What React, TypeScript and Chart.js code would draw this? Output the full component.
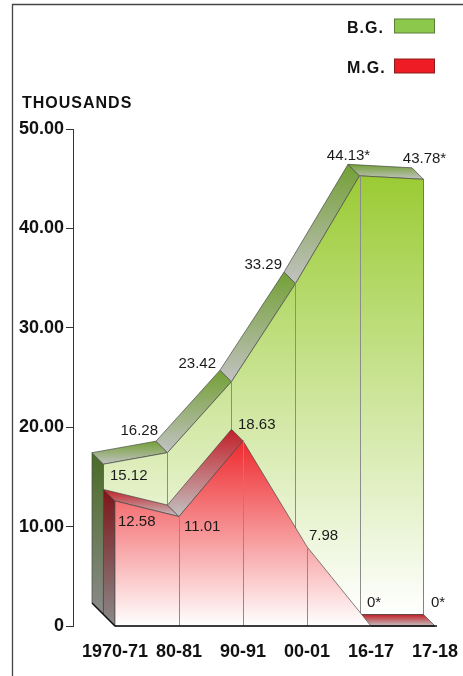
import React, { useEffect, useRef } from 'react';
import { Chart, registerables } from 'chart.js';

Chart.register(...registerables);

// ---------- data ----------
const categories = ['1970-71', '80-81', '90-91', '00-01', '16-17', '17-18'];
const bgValues = [15.12, 16.28, 23.42, 33.29, 44.13, 43.78];
const mgValues = [12.58, 11.01, 18.63, 7.98, 0, 0];
const provisional = [false, false, false, false, true, true];
const yTickValues = [0, 10, 20, 30, 40, 50];
const seriesNames = ['B.G.', 'M.G.'];
const unitLabel = 'THOUSANDS';

// ---------- style ----------
const FONT = "'Liberation Sans', Arial, Helvetica, sans-serif";
const DEPTH = 11.5;
const GREY_STRIP = '#c2c2c2';
const GREY_CAP = '#8a8a8a';
const EDGE = 'rgba(70,70,70,0.85)';

type Place = [CanvasTextAlign, number, number];

const bgStyle = {
  depth: 1,
  face: '#9acb34',
  strip: '#73a035',
  cap: '#4a6c26',
  legendFill: '#8cc84b',
  legendStroke: '#5b7d36',
  places: [
    ['left', 6.5, 16],
    ['right', -9.5, -17.5],
    ['right', -15.5, -13.5],
    ['right', -13.5, -14.5],
    ['center', -11, -15.5],
    ['center', 1, -16],
  ] as Place[],
};
const mgStyle = {
  depth: 0,
  face: '#ee2a2e',
  strip: '#c21f28',
  cap: '#7e1418',
  legendFill: '#ee1c25',
  legendStroke: '#8b1c1c',
  places: [
    ['left', 3, 25],
    ['left', 5, 14.5],
    ['left', -5, -12],
    ['left', 2, -7],
    ['left', -4, -19],
    ['left', -4, -19],
  ] as Place[],
};

type Pt = { x: number; y: number };

function vGrad(ctx: CanvasRenderingContext2D, y0: number, y1: number, c0: string, c1: string) {
  const g = ctx.createLinearGradient(0, y0, 0, Math.max(y1, y0 + 0.01));
  g.addColorStop(0, c0);
  g.addColorStop(1, c1);
  return g;
}

function poly(ctx: CanvasRenderingContext2D, pts: Pt[]) {
  ctx.beginPath();
  ctx.moveTo(pts[0].x, pts[0].y);
  for (let i = 1; i < pts.length; i++) ctx.lineTo(pts[i].x, pts[i].y);
  ctx.closePath();
}

function fmt(v: number, i: number) {
  const s = v === 0 ? '0' : v.toFixed(2);
  return provisional[i] ? s + '*' : s;
}

const area3d = {
  id: 'area3d',
  beforeDraw(chart: any) {
    const ctx: CanvasRenderingContext2D = chart.ctx;
    ctx.save();
    // frame
    ctx.strokeStyle = '#444';
    ctx.lineWidth = 1.3;
    ctx.beginPath();
    ctx.moveTo(12.5, chart.height);
    ctx.lineTo(12.5, 4.5);
    ctx.lineTo(chart.width, 4.5);
    ctx.stroke();
    // unit title
    ctx.fillStyle = '#111';
    ctx.font = `bold 16px ${FONT}`;
    (ctx as any).letterSpacing = '1px';
    ctx.textAlign = 'left';
    ctx.textBaseline = 'alphabetic';
    ctx.fillText(unitLabel, 22, 108);
    // legend
    const legendStyles = [bgStyle, mgStyle];
    seriesNames.forEach((name, i) => {
      const st = legendStyles[i];
      const baseY = 33 + i * 40;
      ctx.fillStyle = '#111';
      ctx.fillText(name, 347, baseY);
      ctx.fillStyle = st.legendFill;
      ctx.fillRect(394.5, baseY - 14, 40, 14);
      ctx.strokeStyle = st.legendStroke;
      ctx.lineWidth = 1;
      ctx.strokeRect(394.5, baseY - 14, 40, 14);
    });
    (ctx as any).letterSpacing = '0px';
    ctx.restore();
  },
  afterDatasetsDraw(chart: any) {
    const ctx: CanvasRenderingContext2D = chart.ctx;
    const xs = chart.scales.x;
    const ys = chart.scales.y;
    const series = [
      { values: bgValues, st: bgStyle },
      { values: mgValues, st: mgStyle },
    ].sort((a, b) => b.st.depth - a.st.depth);

    const geo: { F: Pt[]; B: Pt[]; base: number; values: number[]; st: any }[] = [];

    ctx.save();
    for (const s of series) {
      const k = s.st.depth;
      const off = -k * DEPTH;
      const F: Pt[] = s.values.map((v, i) => ({ x: xs.getPixelForValue(i) + off, y: ys.getPixelForValue(v) + off }));
      const B: Pt[] = F.map((p) => ({ x: p.x - DEPTH, y: p.y - DEPTH }));
      const base = ys.getPixelForValue(0) + off;
      const n = F.length;
      geo.push({ F, B, base, values: s.values, st: s.st });

      ctx.lineWidth = 0.8;
      ctx.strokeStyle = EDGE;

      // left end cap
      const cap = [B[0], F[0], { x: F[0].x, y: base }, { x: B[0].x, y: base - DEPTH }];
      poly(ctx, cap);
      ctx.fillStyle = vGrad(ctx, B[0].y, base, s.st.cap, GREY_CAP);
      ctx.fill();
      ctx.stroke();

      // top strips (only those facing the viewer)
      for (let i = 0; i < n - 1; i++) {
        const sx = F[i + 1].x - F[i].x;
        const sy = F[i + 1].y - F[i].y;
        if (sy >= sx) continue;
        const pts = [F[i], F[i + 1], B[i + 1], B[i]];
        const top = Math.min(...pts.map((p) => p.y));
        const bot = Math.max(...pts.map((p) => p.y));
        poly(ctx, pts);
        ctx.fillStyle = vGrad(ctx, top, bot, s.st.strip, GREY_STRIP);
        ctx.fill();
        ctx.stroke();
      }

      // front face
      const face = [...F, { x: F[n - 1].x, y: base }, { x: F[0].x, y: base }];
      const topY = Math.min(...F.map((p) => p.y));
      poly(ctx, face);
      ctx.fillStyle = vGrad(ctx, topY, base, s.st.face, '#ffffff');
      ctx.fill();
      ctx.stroke();

      // category verticals on the front face
      ctx.strokeStyle = '#8c8c8c';
      ctx.lineWidth = 1;
      for (let i = 1; i < n - 1; i++) {
        if (base - F[i].y < 0.5) continue;
        ctx.beginPath();
        ctx.moveTo(Math.round(F[i].x) + 0.5, F[i].y);
        ctx.lineTo(Math.round(F[i].x) + 0.5, base);
        ctx.stroke();
      }
    }

    // black base edges
    const front = geo[geo.length - 1];
    const back = geo[0];
    ctx.strokeStyle = '#111';
    ctx.lineWidth = 1.5;
    ctx.beginPath();
    ctx.moveTo(back.B[0].x, back.base - DEPTH);
    ctx.lineTo(front.F[0].x, front.base);
    ctx.lineTo(front.F[front.F.length - 1].x + 2, front.base);
    ctx.stroke();

    // value labels
    ctx.fillStyle = '#1a1a1a';
    ctx.font = `15px ${FONT}`;
    ctx.textBaseline = 'alphabetic';
    for (const g of geo) {
      g.values.forEach((v, i) => {
        const [align, dx, dy] = g.st.places[i];
        ctx.textAlign = align;
        ctx.fillText(fmt(v, i), g.F[i].x + dx, g.F[i].y + dy);
      });
    }
    ctx.restore();
  },
};

export default function App() {
  const ref = useRef<HTMLCanvasElement>(null);
  useEffect(() => {
    if (!ref.current) return;
    const chart = new Chart(ref.current, {
      type: 'line',
      data: {
        datasets: [
          {
            label: seriesNames[0],
            data: bgValues.map((v, i) => ({ x: i, y: v })),
            showLine: false,
            pointRadius: 0,
          },
          {
            label: seriesNames[1],
            data: mgValues.map((v, i) => ({ x: i, y: v })),
            showLine: false,
            pointRadius: 0,
          },
        ],
      },
      options: {
        responsive: false,
        animation: false,
        devicePixelRatio: 1,
        events: [],
        layout: { padding: { top: 129, right: 23, bottom: 0, left: 0 } },
        plugins: {
          legend: { display: false },
          tooltip: { enabled: false },
          title: { display: false },
        },
        scales: {
          x: {
            type: 'linear',
            min: -0.656,
            max: 5.078,
            afterBuildTicks: (s: any) => {
              s.ticks = categories.map((_, i) => ({ value: i }));
            },
            afterFit: (s: any) => {
              s.height = 50;
            },
            ticks: {
              autoSkip: false,
              maxRotation: 0,
              padding: 2,
              color: '#111',
              font: { family: FONT, size: 18, weight: 'bold' },
              callback: (v: any) => categories[v] ?? '',
            },
            grid: { display: false, drawTicks: true, tickLength: 13 },
            border: { display: false },
          },
          y: {
            min: 0,
            max: 50,
            afterBuildTicks: (s: any) => {
              s.ticks = yTickValues.map((v) => ({ value: v }));
            },
            afterFit: (s: any) => {
              s.width = 73;
            },
            ticks: {
              padding: 2,
              color: '#111',
              font: { family: FONT, size: 18, weight: 'bold' },
              callback: (v: any) => (v === 0 ? '0' : Number(v).toFixed(2)),
            },
            grid: { drawOnChartArea: false, drawTicks: true, tickLength: 7, color: '#333' },
            border: { display: true, color: '#333', width: 1 },
          },
        },
      },
      plugins: [area3d],
    } as any);
    return () => chart.destroy();
  }, []);
  return (
    <div style={{ position: 'absolute', left: 0, top: 0, width: 463, height: 676, overflow: 'hidden', background: '#fff' }}>
      <canvas ref={ref} width={463} height={676} style={{ display: 'block' }} />
    </div>
  );
}
